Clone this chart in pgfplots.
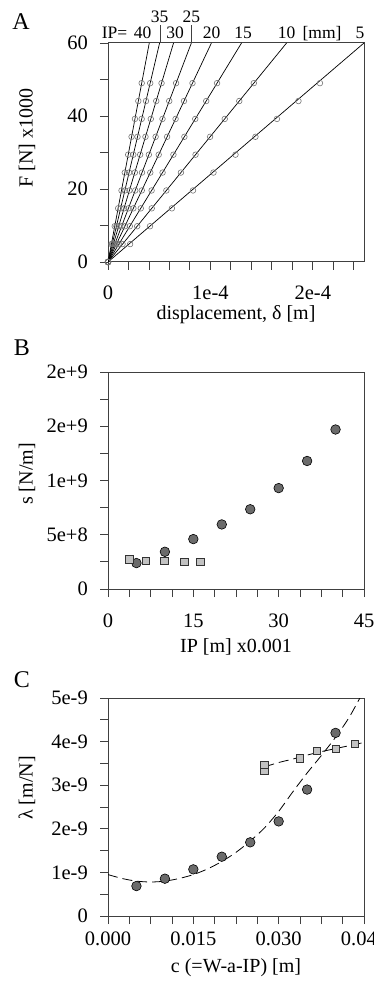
\documentclass[border=0pt]{standalone}
\usepackage{fontspec}
\setmainfont{Liberation Serif}
\usepackage{pgfplots}
\pgfplotsset{compat=1.18}
\definecolor{axgray}{gray}{0.25}
\definecolor{markA}{gray}{0.45}
\definecolor{darkfill}{gray}{0.42}
\definecolor{lightfill}{gray}{0.76}
\pgfplotsset{
  panel/.style={
    scale only axis, width=256pt,
    scaled ticks=false,
    axis line style={line width=1pt, axgray},
    tick align=outside, tick pos=left,
    major tick length=8pt, minor tick length=8pt,
    every tick/.style={axgray, line width=0.9pt},
    tick label style={font=\fontsize{20.5}{24}\selectfont, inner sep=0pt},
    yticklabel style={anchor=east, xshift=-12pt},
    xticklabel style={anchor=north},
  },
  dmark/.style={only marks, mark=*, mark size=4.8pt, mark options={fill=darkfill, draw=black, line width=0.6pt}},
  lmark/.style={only marks, mark=square*, mark size=3.7pt, mark options={fill=lightfill, draw=black!80, line width=0.6pt}},
  amark/.style={only marks, mark=o, mark size=2.8pt, mark options={draw=markA, line width=0.6pt}},
  aline/.style={black, line width=0.7pt, no marks},
}
\begin{document}
\fontsize{20}{24}\selectfont
\begin{tikzpicture}
% ---------------- Panel A ----------------
\begin{axis}[panel, at={(108pt,-43pt)}, anchor=north west, height=219pt,
  xmin=0, xmax=2.5, ymin=0, ymax=60,
  xtick={0,1,2}, xticklabels={0,1e-4,2e-4},
  minor xtick={0.2,0.4,0.6,0.8,1.2,1.4,1.6,1.8,2.2,2.4},
  ytick={0,20,40,60}, yticklabels={0,20,40,60},
  minor ytick={10,30,50},
  xticklabel shift=16pt,
  clip=true, clip marker paths=false]
\addplot[aline] coordinates {(0,0) (0.403,60)};
\addplot[aline] coordinates {(0,0) (0.504,60)};
\addplot[aline] coordinates {(0,0) (0.640,60)};
\addplot[aline] coordinates {(0,0) (0.814,60)};
\addplot[aline] coordinates {(0,0) (1.010,60)};
\addplot[aline] coordinates {(0,0) (1.304,60)};
\addplot[aline] coordinates {(0,0) (1.744,60)};
\addplot[aline] coordinates {(0,0) (2.500,60)};
\addplot[amark] coordinates {(0,0) (0.033,4.9) (0.066,9.8) (0.099,14.7) (0.132,19.6) (0.164,24.5) (0.197,29.4) (0.230,34.3) (0.263,39.2) (0.296,44.1) (0.329,49)};
\addplot[amark] coordinates {(0,0) (0.041,4.9) (0.082,9.8) (0.124,14.7) (0.165,19.6) (0.206,24.5) (0.247,29.4) (0.288,34.3) (0.329,39.2) (0.371,44.1) (0.412,49)};
\addplot[amark] coordinates {(0,0) (0.052,4.9) (0.105,9.8) (0.157,14.7) (0.209,19.6) (0.262,24.5) (0.314,29.4) (0.366,34.3) (0.418,39.2) (0.471,44.1) (0.523,49)};
\addplot[amark] coordinates {(0,0) (0.067,4.9) (0.133,9.8) (0.200,14.7) (0.266,19.6) (0.332,24.5) (0.399,29.4) (0.465,34.3) (0.532,39.2) (0.598,44.1) (0.665,49)};
\addplot[amark] coordinates {(0,0) (0.083,4.9) (0.165,9.8) (0.248,14.7) (0.330,19.6) (0.413,24.5) (0.495,29.4) (0.577,34.3) (0.660,39.2) (0.742,44.1) (0.825,49)};
\addplot[amark] coordinates {(0,0) (0.107,4.9) (0.213,9.8) (0.320,14.7) (0.426,19.6) (0.533,24.5) (0.639,29.4) (0.746,34.3) (0.852,39.2) (0.959,44.1) (1.065,49)};
\addplot[amark] coordinates {(0,0) (0.142,4.9) (0.285,9.8) (0.427,14.7) (0.570,19.6) (0.712,24.5) (0.855,29.4) (0.997,34.3) (1.140,39.2) (1.282,44.1) (1.424,49)};
\addplot[amark] coordinates {(0,0) (0.216,4.9) (0.410,9.8) (0.624,14.7) (0.830,19.6) (1.030,24.5) (1.245,29.4) (1.440,34.3) (1.650,39.2) (1.860,44.1) (2.070,49)};
\end{axis}
% top annotations of panel A
\begin{scope}[every node/.style={font=\fontsize{17.5}{20}\selectfont, inner sep=0pt, anchor=base}]
\node[anchor=base west] at (101.7pt,-39pt) {IP=};
\node at (142.5pt,-39pt) {40};
\node at (175pt,-39pt) {30};
\node at (211.7pt,-39pt) {20};
\node at (243pt,-39pt) {15};
\node at (286.7pt,-39pt) {10};
\node at (322pt,-39pt) {[mm]};
\node at (360pt,-39pt) {5};
\node at (159.5pt,-22.7pt) {35};
\node at (191.3pt,-22.7pt) {25};
\draw[line width=0.6pt, axgray] (160.2pt,-43pt) -- (160.2pt,-25pt);
\draw[line width=0.6pt, axgray] (191.6pt,-43pt) -- (191.6pt,-25pt);
\end{scope}
\node[font=\fontsize{24}{28}\selectfont, inner sep=0pt] at (21pt,-22pt) {A};
\node[rotate=90, inner sep=0pt] at (27pt,-138pt) {F [N] x1000};
\node[inner sep=0pt, anchor=base] at (236pt,-319.5pt) {displacement, δ [m]};
% ---------------- Panel B ----------------
\begin{axis}[panel, at={(108pt,-372pt)}, anchor=north west, height=217pt,
  xmin=0, xmax=45, ymin=0, ymax=2e9,
  xtick={0,15,30,45}, xticklabels={0,15,30,45},
  minor xtick={3.75,7.5,11.25,18.75,22.5,26.25,33.75,37.5,41.25},
  ytick={0,5e8,1e9,1.5e9,2e9}, yticklabels={0,5e+8,1e+9,2e+9,2e+9},
  minor ytick={2.5e8,7.5e8,1.25e9,1.75e9},
  xticklabel shift=17pt,
  clip=false]
\addplot[dmark] coordinates {(5,2.39e8) (10,3.43e8) (15,4.6e8) (20,5.95e8) (25,7.35e8) (30,9.3e8) (35,1.18e9) (40,1.47e9)};
\addplot[lmark] coordinates {(3.75,2.74e8) (6.6,2.61e8) (9.9,2.61e8) (13.4,2.49e8) (16.2,2.49e8)};
\end{axis}
\node[font=\fontsize{24}{28}\selectfont, inner sep=0pt] at (22pt,-348pt) {B};
\node[rotate=90, inner sep=0pt] at (27pt,-474pt) {s [N/m]};
\node[inner sep=0pt, anchor=base] at (236pt,-652pt) {IP [m] x0.001};
% ---------------- Panel C ----------------
\begin{axis}[panel, at={(108pt,-698pt)}, anchor=north west, height=218pt,
  xmin=0, xmax=0.045, ymin=0, ymax=5e-9,
  xtick={0,0.015,0.03,0.045}, xticklabels={0.000,0.015,0.030,0.045},
  minor xtick={0.00375,0.0075,0.01125,0.01875,0.0225,0.02625,0.03375,0.0375,0.04125},
  ytick={0,1e-9,2e-9,3e-9,4e-9,5e-9}, yticklabels={0,1e-9,2e-9,3e-9,4e-9,5e-9},
  minor ytick={0.5e-9,1.5e-9,2.5e-9,3.5e-9,4.5e-9},
  xticklabel shift=8pt,
  clip=true, clip marker paths=false]
\addplot[black, line width=0.8pt, dash pattern=on 10pt off 5pt, smooth, no marks] coordinates {
 (0,0.95e-9) (0.0025,0.86e-9) (0.005,0.80e-9) (0.0075,0.78e-9) (0.01,0.80e-9) (0.0125,0.86e-9)
 (0.015,0.95e-9) (0.0175,1.08e-9) (0.02,1.25e-9) (0.0225,1.46e-9) (0.025,1.72e-9) (0.0275,2.02e-9)
 (0.03,2.40e-9) (0.0325,2.85e-9) (0.035,3.28e-9) (0.0375,3.68e-9) (0.04,4.10e-9) (0.0425,4.58e-9) (0.0455,5.3e-9)};
\addplot[black, line width=0.8pt, dash pattern=on 10pt off 5pt, smooth, no marks] coordinates {
 (0.0275,3.42e-9) (0.03,3.52e-9) (0.0325,3.60e-9) (0.035,3.69e-9) (0.0375,3.77e-9) (0.04,3.84e-9) (0.0425,3.91e-9) (0.045,3.98e-9)};
\addplot[dmark] coordinates {(0.005,0.687e-9) (0.01,0.856e-9) (0.015,1.07e-9) (0.02,1.36e-9) (0.025,1.69e-9) (0.03,2.17e-9) (0.035,2.90e-9) (0.04,4.20e-9)};
\addplot[lmark] coordinates {(0.0275,3.34e-9) (0.0275,3.47e-9) (0.03375,3.62e-9) (0.03668,3.79e-9) (0.04,3.84e-9) (0.0434,3.95e-9)};
\end{axis}
\node[font=\fontsize{24}{28}\selectfont, inner sep=0pt] at (22pt,-680pt) {C};
\node[rotate=90, inner sep=0pt] at (27pt,-788pt) {λ [m/N]};
\node[inner sep=0pt, anchor=base] at (236pt,-972pt) {c (=W-a-IP) [m]};
\pgfresetboundingbox
\path[use as bounding box] (0pt,0pt) rectangle (374pt,-987pt);
\end{tikzpicture}
\end{document}
